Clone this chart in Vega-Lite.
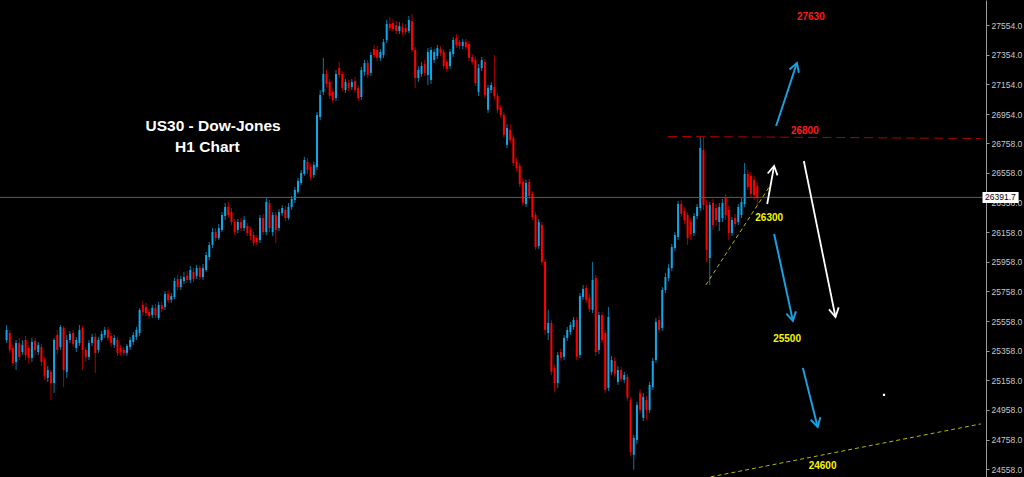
{
"$schema":"https://vega.github.io/schema/vega-lite/v6.json",
"width":986,"height":477,"autosize":"none",
"padding":{"left":0,"top":0,"right":38,"bottom":0},
"background":"#000000",
"config":{"view":{"stroke":null},"axisX":{"disable":true},
 "axisY":{"grid":false,"labelOverlap":false,"labelBound":false,"domainColor":"#9a9a9a","tickColor":"#9a9a9a","tickSize":3,"labelPadding":2,"labelColor":"#c8c8c8","labelFontSize":8.5,"labelFont":"Liberation Sans","labelBaseline":"middle","title":null}},
"datasets":{"k":[
{"t":0,"o":25430,"h":25531,"l":25410,"c":25498},
{"t":1,"o":25477,"h":25498,"l":25343,"c":25363},
{"t":2,"o":25376,"h":25397,"l":25255,"c":25275},
{"t":3,"o":25282,"h":25430,"l":25228,"c":25410},
{"t":4,"o":25410,"h":25444,"l":25295,"c":25316},
{"t":5,"o":25349,"h":25430,"l":25329,"c":25397},
{"t":6,"o":25430,"h":25457,"l":25295,"c":25329},
{"t":7,"o":25376,"h":25397,"l":25275,"c":25309},
{"t":8,"o":25309,"h":25444,"l":25282,"c":25417},
{"t":9,"o":25424,"h":25444,"l":25329,"c":25363},
{"t":10,"o":25349,"h":25417,"l":25329,"c":25397},
{"t":11,"o":25383,"h":25403,"l":25255,"c":25282},
{"t":12,"o":25295,"h":25316,"l":25161,"c":25188},
{"t":13,"o":25174,"h":25255,"l":25147,"c":25228},
{"t":14,"o":25215,"h":25228,"l":25026,"c":25140},
{"t":15,"o":25140,"h":25444,"l":25073,"c":25430},
{"t":16,"o":25464,"h":25498,"l":25336,"c":25363},
{"t":17,"o":25383,"h":25531,"l":25363,"c":25518},
{"t":18,"o":25511,"h":25525,"l":25113,"c":25228},
{"t":19,"o":25215,"h":25464,"l":25174,"c":25430},
{"t":20,"o":25430,"h":25491,"l":25410,"c":25471},
{"t":21,"o":25477,"h":25498,"l":25383,"c":25403},
{"t":22,"o":25376,"h":25451,"l":25349,"c":25430},
{"t":23,"o":25410,"h":25531,"l":25390,"c":25498},
{"t":24,"o":25511,"h":25525,"l":25228,"c":25363},
{"t":25,"o":25363,"h":25383,"l":25282,"c":25316},
{"t":26,"o":25316,"h":25430,"l":25295,"c":25410},
{"t":27,"o":25410,"h":25471,"l":25390,"c":25451},
{"t":28,"o":25451,"h":25477,"l":25208,"c":25343},
{"t":29,"o":25363,"h":25451,"l":25343,"c":25430},
{"t":30,"o":25430,"h":25491,"l":25417,"c":25471},
{"t":31,"o":25464,"h":25518,"l":25444,"c":25498},
{"t":32,"o":25498,"h":25518,"l":25424,"c":25444},
{"t":33,"o":25457,"h":25477,"l":25383,"c":25410},
{"t":34,"o":25397,"h":25464,"l":25376,"c":25444},
{"t":35,"o":25430,"h":25451,"l":25322,"c":25343},
{"t":36,"o":25376,"h":25397,"l":25322,"c":25349},
{"t":37,"o":25363,"h":25383,"l":25322,"c":25343},
{"t":38,"o":25343,"h":25403,"l":25322,"c":25390},
{"t":39,"o":25383,"h":25451,"l":25363,"c":25430},
{"t":40,"o":25417,"h":25484,"l":25397,"c":25464},
{"t":41,"o":25451,"h":25518,"l":25430,"c":25498},
{"t":42,"o":25477,"h":25646,"l":25457,"c":25633},
{"t":43,"o":25666,"h":25693,"l":25592,"c":25619},
{"t":44,"o":25653,"h":25680,"l":25592,"c":25612},
{"t":45,"o":25619,"h":25639,"l":25572,"c":25592},
{"t":46,"o":25599,"h":25666,"l":25579,"c":25646},
{"t":47,"o":25646,"h":25673,"l":25579,"c":25599},
{"t":48,"o":25579,"h":25687,"l":25565,"c":25666},
{"t":49,"o":25666,"h":25687,"l":25619,"c":25639},
{"t":50,"o":25653,"h":25760,"l":25633,"c":25740},
{"t":51,"o":25740,"h":25767,"l":25680,"c":25700},
{"t":52,"o":25700,"h":25747,"l":25680,"c":25727},
{"t":53,"o":25720,"h":25848,"l":25706,"c":25828},
{"t":54,"o":25841,"h":25868,"l":25767,"c":25787},
{"t":55,"o":25787,"h":25862,"l":25767,"c":25841},
{"t":56,"o":25828,"h":25889,"l":25808,"c":25855},
{"t":57,"o":25862,"h":25895,"l":25814,"c":25835},
{"t":58,"o":25835,"h":25929,"l":25814,"c":25902},
{"t":59,"o":25889,"h":25915,"l":25821,"c":25841},
{"t":60,"o":25862,"h":25936,"l":25841,"c":25915},
{"t":61,"o":25915,"h":25936,"l":25835,"c":25855},
{"t":62,"o":25855,"h":25942,"l":25835,"c":25915},
{"t":63,"o":25902,"h":26023,"l":25889,"c":26003},
{"t":64,"o":25990,"h":26091,"l":25969,"c":26071},
{"t":65,"o":26071,"h":26185,"l":26050,"c":26158},
{"t":66,"o":26158,"h":26185,"l":26098,"c":26118},
{"t":67,"o":26118,"h":26212,"l":26104,"c":26185},
{"t":68,"o":26172,"h":26293,"l":26158,"c":26273},
{"t":69,"o":26266,"h":26354,"l":26239,"c":26327},
{"t":70,"o":26327,"h":26361,"l":26253,"c":26273},
{"t":71,"o":26293,"h":26320,"l":26205,"c":26226},
{"t":72,"o":26226,"h":26246,"l":26138,"c":26158},
{"t":73,"o":26172,"h":26246,"l":26151,"c":26226},
{"t":74,"o":26226,"h":26253,"l":26165,"c":26185},
{"t":75,"o":26185,"h":26266,"l":26165,"c":26239},
{"t":76,"o":26199,"h":26219,"l":26131,"c":26151},
{"t":77,"o":26172,"h":26192,"l":26104,"c":26131},
{"t":78,"o":26138,"h":26158,"l":26064,"c":26084},
{"t":79,"o":26118,"h":26138,"l":26071,"c":26091},
{"t":80,"o":26104,"h":26273,"l":26084,"c":26253},
{"t":81,"o":26253,"h":26280,"l":26138,"c":26158},
{"t":82,"o":26158,"h":26388,"l":26138,"c":26361},
{"t":83,"o":26354,"h":26374,"l":26158,"c":26185},
{"t":84,"o":26158,"h":26293,"l":26131,"c":26273},
{"t":85,"o":26273,"h":26293,"l":26084,"c":26172},
{"t":86,"o":26185,"h":26313,"l":26165,"c":26293},
{"t":87,"o":26286,"h":26340,"l":26266,"c":26320},
{"t":88,"o":26307,"h":26334,"l":26232,"c":26253},
{"t":89,"o":26253,"h":26354,"l":26239,"c":26327},
{"t":90,"o":26327,"h":26402,"l":26307,"c":26381},
{"t":91,"o":26374,"h":26462,"l":26354,"c":26442},
{"t":92,"o":26429,"h":26523,"l":26415,"c":26503},
{"t":93,"o":26489,"h":26577,"l":26476,"c":26557},
{"t":94,"o":26550,"h":26665,"l":26537,"c":26644},
{"t":95,"o":26631,"h":26658,"l":26550,"c":26577},
{"t":96,"o":26597,"h":26617,"l":26510,"c":26530},
{"t":97,"o":26543,"h":26631,"l":26523,"c":26611},
{"t":98,"o":26597,"h":26968,"l":26577,"c":26948},
{"t":99,"o":26934,"h":27116,"l":26914,"c":27082},
{"t":100,"o":27103,"h":27332,"l":27082,"c":27224},
{"t":101,"o":27224,"h":27251,"l":27136,"c":27157},
{"t":102,"o":27170,"h":27190,"l":27055,"c":27076},
{"t":103,"o":27103,"h":27123,"l":27029,"c":27049},
{"t":104,"o":27062,"h":27251,"l":27042,"c":27224},
{"t":105,"o":27264,"h":27305,"l":27197,"c":27217},
{"t":106,"o":27224,"h":27244,"l":27109,"c":27130},
{"t":107,"o":27116,"h":27190,"l":27096,"c":27170},
{"t":108,"o":27163,"h":27184,"l":27109,"c":27130},
{"t":109,"o":27136,"h":27190,"l":27116,"c":27170},
{"t":110,"o":27177,"h":27204,"l":27096,"c":27116},
{"t":111,"o":27130,"h":27150,"l":27042,"c":27062},
{"t":112,"o":27069,"h":27271,"l":27049,"c":27251},
{"t":113,"o":27238,"h":27318,"l":27211,"c":27298},
{"t":114,"o":27298,"h":27318,"l":27197,"c":27217},
{"t":115,"o":27231,"h":27372,"l":27211,"c":27352},
{"t":116,"o":27393,"h":27420,"l":27332,"c":27352},
{"t":117,"o":27386,"h":27413,"l":27312,"c":27332},
{"t":118,"o":27332,"h":27393,"l":27312,"c":27372},
{"t":119,"o":27352,"h":27460,"l":27332,"c":27440},
{"t":120,"o":27453,"h":27588,"l":27433,"c":27561},
{"t":121,"o":27561,"h":27608,"l":27514,"c":27534},
{"t":122,"o":27568,"h":27595,"l":27507,"c":27527},
{"t":123,"o":27554,"h":27581,"l":27494,"c":27514},
{"t":124,"o":27514,"h":27575,"l":27494,"c":27548},
{"t":125,"o":27541,"h":27568,"l":27487,"c":27507},
{"t":126,"o":27534,"h":27561,"l":27487,"c":27507},
{"t":127,"o":27514,"h":27615,"l":27500,"c":27588},
{"t":128,"o":27581,"h":27629,"l":27372,"c":27386},
{"t":129,"o":27386,"h":27406,"l":27130,"c":27197},
{"t":130,"o":27197,"h":27278,"l":27170,"c":27251},
{"t":131,"o":27224,"h":27305,"l":27204,"c":27278},
{"t":132,"o":27291,"h":27318,"l":27211,"c":27231},
{"t":133,"o":27217,"h":27399,"l":27150,"c":27372},
{"t":134,"o":27184,"h":27406,"l":27157,"c":27386},
{"t":135,"o":27318,"h":27393,"l":27298,"c":27372},
{"t":136,"o":27345,"h":27420,"l":27325,"c":27399},
{"t":137,"o":27393,"h":27413,"l":27345,"c":27366},
{"t":138,"o":27372,"h":27393,"l":27258,"c":27278},
{"t":139,"o":27305,"h":27325,"l":27238,"c":27258},
{"t":140,"o":27278,"h":27393,"l":27258,"c":27372},
{"t":141,"o":27359,"h":27474,"l":27339,"c":27453},
{"t":142,"o":27467,"h":27494,"l":27399,"c":27420},
{"t":143,"o":27440,"h":27453,"l":27393,"c":27413},
{"t":144,"o":27413,"h":27460,"l":27393,"c":27440},
{"t":145,"o":27440,"h":27460,"l":27386,"c":27406},
{"t":146,"o":27426,"h":27447,"l":27312,"c":27332},
{"t":147,"o":27339,"h":27359,"l":27285,"c":27305},
{"t":148,"o":27318,"h":27339,"l":27143,"c":27163},
{"t":149,"o":27103,"h":27291,"l":27076,"c":27264},
{"t":150,"o":27264,"h":27339,"l":27244,"c":27318},
{"t":151,"o":27305,"h":27325,"l":27062,"c":27082},
{"t":152,"o":26982,"h":27150,"l":26961,"c":27130},
{"t":153,"o":27116,"h":27170,"l":27096,"c":27150},
{"t":154,"o":27136,"h":27352,"l":27055,"c":27076},
{"t":155,"o":27076,"h":27096,"l":26961,"c":26982},
{"t":156,"o":26995,"h":27015,"l":26928,"c":26948},
{"t":157,"o":26948,"h":26968,"l":26793,"c":26813},
{"t":158,"o":26746,"h":26887,"l":26725,"c":26860},
{"t":159,"o":26847,"h":26887,"l":26759,"c":26779},
{"t":160,"o":26793,"h":26813,"l":26604,"c":26624},
{"t":161,"o":26631,"h":26658,"l":26570,"c":26590},
{"t":162,"o":26604,"h":26624,"l":26462,"c":26483},
{"t":163,"o":26496,"h":26523,"l":26334,"c":26354},
{"t":164,"o":26347,"h":26510,"l":26327,"c":26489},
{"t":165,"o":26496,"h":26516,"l":26381,"c":26402},
{"t":166,"o":26415,"h":26435,"l":26239,"c":26259},
{"t":167,"o":26273,"h":26293,"l":26037,"c":26057},
{"t":168,"o":26064,"h":26246,"l":26044,"c":26226},
{"t":169,"o":26205,"h":26226,"l":25936,"c":25956},
{"t":170,"o":25956,"h":25976,"l":25464,"c":25498},
{"t":171,"o":25477,"h":25633,"l":25430,"c":25545},
{"t":172,"o":25545,"h":25565,"l":25194,"c":25215},
{"t":173,"o":25241,"h":25262,"l":25080,"c":25140},
{"t":174,"o":25140,"h":25349,"l":25107,"c":25329},
{"t":175,"o":25349,"h":25370,"l":25289,"c":25309},
{"t":176,"o":25316,"h":25464,"l":25295,"c":25444},
{"t":177,"o":25444,"h":25518,"l":25424,"c":25498},
{"t":178,"o":25484,"h":25552,"l":25464,"c":25531},
{"t":179,"o":25518,"h":25585,"l":25498,"c":25565},
{"t":180,"o":25565,"h":25585,"l":25295,"c":25316},
{"t":181,"o":25329,"h":25747,"l":25309,"c":25727},
{"t":182,"o":25720,"h":25801,"l":25700,"c":25774},
{"t":183,"o":25781,"h":25801,"l":25680,"c":25700},
{"t":184,"o":25713,"h":25740,"l":25619,"c":25639},
{"t":185,"o":25633,"h":25956,"l":25612,"c":25835},
{"t":186,"o":25848,"h":25868,"l":25322,"c":25349},
{"t":187,"o":25363,"h":25619,"l":25336,"c":25599},
{"t":188,"o":25599,"h":25619,"l":25410,"c":25430},
{"t":189,"o":25477,"h":25498,"l":25073,"c":25093},
{"t":190,"o":25107,"h":25653,"l":25086,"c":25585},
{"t":191,"o":25215,"h":25322,"l":25194,"c":25295},
{"t":192,"o":25289,"h":25316,"l":25181,"c":25201},
{"t":193,"o":25147,"h":25255,"l":25127,"c":25228},
{"t":194,"o":25228,"h":25248,"l":25147,"c":25167},
{"t":195,"o":25161,"h":25215,"l":25140,"c":25194},
{"t":196,"o":25181,"h":25201,"l":25019,"c":25039},
{"t":197,"o":25026,"h":25046,"l":24648,"c":24675},
{"t":198,"o":24655,"h":24790,"l":24554,"c":24770},
{"t":199,"o":24756,"h":25013,"l":24729,"c":24992},
{"t":200,"o":25073,"h":25100,"l":24932,"c":24959},
{"t":201,"o":24905,"h":25073,"l":24884,"c":25046},
{"t":202,"o":25026,"h":25053,"l":24891,"c":24959},
{"t":203,"o":24959,"h":25147,"l":24938,"c":25127},
{"t":204,"o":25113,"h":25309,"l":25093,"c":25289},
{"t":205,"o":25295,"h":25579,"l":25275,"c":25552},
{"t":206,"o":25565,"h":25592,"l":25477,"c":25498},
{"t":207,"o":25511,"h":25787,"l":25491,"c":25767},
{"t":208,"o":25767,"h":25882,"l":25747,"c":25855},
{"t":209,"o":25848,"h":25942,"l":25828,"c":25915},
{"t":210,"o":25915,"h":26077,"l":25895,"c":26057},
{"t":211,"o":26050,"h":26158,"l":26030,"c":26138},
{"t":212,"o":26125,"h":26367,"l":26104,"c":26347},
{"t":213,"o":26347,"h":26374,"l":26259,"c":26280},
{"t":214,"o":26300,"h":26327,"l":26212,"c":26239},
{"t":215,"o":26273,"h":26293,"l":26071,"c":26118},
{"t":216,"o":26226,"h":26253,"l":26104,"c":26145},
{"t":217,"o":26151,"h":26286,"l":26131,"c":26266},
{"t":218,"o":26266,"h":26347,"l":26246,"c":26327},
{"t":219,"o":26320,"h":26800,"l":26300,"c":26725},
{"t":220,"o":26712,"h":26800,"l":26307,"c":26340},
{"t":221,"o":26340,"h":26374,"l":25956,"c":26037},
{"t":222,"o":25983,"h":26361,"l":25801,"c":26340},
{"t":223,"o":26354,"h":26381,"l":26172,"c":26205},
{"t":224,"o":26320,"h":26347,"l":26205,"c":26239},
{"t":225,"o":26226,"h":26354,"l":26165,"c":26327},
{"t":226,"o":26253,"h":26381,"l":26226,"c":26354},
{"t":227,"o":26388,"h":26415,"l":26239,"c":26273},
{"t":228,"o":26307,"h":26334,"l":26104,"c":26151},
{"t":229,"o":26151,"h":26259,"l":26131,"c":26239},
{"t":230,"o":26253,"h":26280,"l":26192,"c":26212},
{"t":231,"o":26226,"h":26347,"l":26205,"c":26327},
{"t":232,"o":26273,"h":26388,"l":26253,"c":26361},
{"t":233,"o":26347,"h":26624,"l":26327,"c":26550},
{"t":234,"o":26550,"h":26577,"l":26442,"c":26462},
{"t":235,"o":26537,"h":26564,"l":26395,"c":26415},
{"t":236,"o":26510,"h":26537,"l":26374,"c":26408},
{"t":237,"o":26469,"h":26496,"l":26340,"c":26392}
]},
"layer":[
{"data":{"name":"k"},
 "mark":{"type":"rule","strokeWidth":1},
 "encoding":{"x":{"field":"t","type":"quantitative","scale":{"domain":[-0.5,307.625],"nice":false,"zero":false}},
  "y":{"field":"l","type":"quantitative","title":null,"scale":{"domain":[24506,27723],"nice":false,"zero":false},
   "axis":{"orient":"right","values":[24558,24758,24958,25158,25358,25558,25758,25958,26158,26358,26558,26758,26954,27154,27354,27554],"format":".1f","labelOverlap":false}},
  "y2":{"field":"h"},
  "color":{"condition":{"test":"datum.c >= datum.o","value":"#0b79a8"},"value":"#b00000"}}},
{"data":{"name":"k"},
 "mark":{"type":"bar","width":2},
 "encoding":{"x":{"field":"t","type":"quantitative","scale":{"domain":[-0.5,307.625],"nice":false,"zero":false}},
  "y":{"field":"o","type":"quantitative","title":null,"scale":{"domain":[24506,27723],"nice":false,"zero":false},
   "axis":{"orient":"right","values":[24558,24758,24958,25158,25358,25558,25758,25958,26158,26358,26558,26758,26954,27154,27354,27554],"format":".1f","labelOverlap":false}},
  "y2":{"field":"c"},
  "color":{"condition":{"test":"datum.c >= datum.o","value":"#12a6e6"},"value":"#ff0000"}}},
{"data":{"values":[{"p":26391.7}]},
 "mark":{"type":"rule","color":"#5c5c5c","strokeWidth":1},
 "encoding":{"y":{"field":"p","type":"quantitative","title":null,"scale":{"domain":[24506,27723],"nice":false,"zero":false},
   "axis":{"orient":"right","values":[24558,24758,24958,25158,25358,25558,25758,25958,26158,26358,26558,26758,26954,27154,27354,27554],"format":".1f","labelOverlap":false}}}},
{"data":{"values":[{"t":208.875,"p":26803},{"t":307.6,"p":26789}]},
 "mark":{"type":"line","color":"#b30000","strokeWidth":1,"strokeDash":[9,5],"clip":true},
 "encoding":{"x":{"field":"t","type":"quantitative","scale":{"domain":[-0.5,307.625],"nice":false,"zero":false}},
  "y":{"field":"p","type":"quantitative","title":null,"scale":{"domain":[24506,27723],"nice":false,"zero":false},
   "axis":{"orient":"right","values":[24558,24758,24958,25158,25358,25558,25758,25958,26158,26358,26558,26758,26954,27154,27354,27554],"format":".1f","labelOverlap":false}}}},
{"data":{"values":[{"id":"a","t":220.75,"p":25801},{"id":"a","t":240.75,"p":26462},{"id":"b","t":222.3,"p":24507},{"id":"b","t":307.6,"p":24864}]},
 "mark":{"type":"line","color":"#b8b800","strokeWidth":1,"strokeDash":[4,3],"clip":true},
 "encoding":{"x":{"field":"t","type":"quantitative","scale":{"domain":[-0.5,307.625],"nice":false,"zero":false}},
  "y":{"field":"p","type":"quantitative","title":null,"scale":{"domain":[24506,27723],"nice":false,"zero":false},
   "axis":{"orient":"right","values":[24558,24758,24958,25158,25358,25558,25758,25958,26158,26358,26558,26758,26954,27154,27354,27554],"format":".1f","labelOverlap":false}},
  "detail":{"field":"id"}}},
{"data":{"values":[
 {"id":"b1s","k":0,"t":242.94,"p":26873},{"id":"b1s","k":1,"t":249.5,"p":27298},
 {"id":"b1h","k":0,"t":247.16,"p":27254},{"id":"b1h","k":1,"t":249.5,"p":27298},{"id":"b1h","k":2,"t":250.13,"p":27232},
 {"id":"b2s","k":0,"t":242.31,"p":26145},{"id":"b2s","k":1,"t":248.25,"p":25559},
 {"id":"b2h","k":0,"t":249.19,"p":25623},{"id":"b2h","k":1,"t":248.25,"p":25559},{"id":"b2h","k":2,"t":246.16,"p":25608},
 {"id":"b3s","k":0,"t":251.38,"p":25242},{"id":"b3s","k":1,"t":256.06,"p":24844},
 {"id":"b3h","k":0,"t":256.91,"p":24909},{"id":"b3h","k":1,"t":256.06,"p":24844},{"id":"b3h","k":2,"t":253.88,"p":24892}]},
 "mark":{"type":"line","color":"#1a9fe0","strokeWidth":2},
 "encoding":{"x":{"field":"t","type":"quantitative","scale":{"domain":[-0.5,307.625],"nice":false,"zero":false}},
  "y":{"field":"p","type":"quantitative","title":null,"scale":{"domain":[24506,27723],"nice":false,"zero":false},
   "axis":{"orient":"right","values":[24558,24758,24958,25158,25358,25558,25758,25958,26158,26358,26558,26758,26954,27154,27354,27554],"format":".1f","labelOverlap":false}},
  "detail":{"field":"id"},"order":{"field":"k"}}},
{"data":{"values":[
 {"id":"w1s","k":0,"t":240.13,"p":26347},{"id":"w1s","k":1,"t":242.31,"p":26604},
 {"id":"w1h","k":0,"t":240.28,"p":26553},{"id":"w1h","k":1,"t":242.31,"p":26604},{"id":"w1h","k":2,"t":243.38,"p":26540},
 {"id":"w2s","k":0,"t":251.69,"p":26637},{"id":"w2s","k":1,"t":261.69,"p":25585},
 {"id":"w2h","k":0,"t":262.69,"p":25650},{"id":"w2h","k":1,"t":261.69,"p":25585},{"id":"w2h","k":2,"t":259.63,"p":25636}]},
 "mark":{"type":"line","color":"#ffffff","strokeWidth":1.8},
 "encoding":{"x":{"field":"t","type":"quantitative","scale":{"domain":[-0.5,307.625],"nice":false,"zero":false}},
  "y":{"field":"p","type":"quantitative","title":null,"scale":{"domain":[24506,27723],"nice":false,"zero":false},
   "axis":{"orient":"right","values":[24558,24758,24958,25158,25358,25558,25758,25958,26158,26358,26558,26758,26954,27154,27354,27554],"format":".1f","labelOverlap":false}},
  "detail":{"field":"id"},"order":{"field":"k"}}},
{"data":{"values":[
 {"s":"27630","t":253.9,"p":27608,"col":"#ff1a1a"},
 {"s":"26800","t":252.0,"p":26840,"col":"#ff1a1a"},
 {"s":"26300","t":240.75,"p":26253,"col":"#f5f500"},
 {"s":"25500","t":246.4,"p":25437,"col":"#f5f500"},
 {"s":"24600","t":257.6,"p":24581,"col":"#f5f500"}]},
 "mark":{"type":"text","font":"Liberation Sans","fontWeight":"bold","fontSize":10,"align":"center","baseline":"middle"},
 "encoding":{"x":{"field":"t","type":"quantitative","scale":{"domain":[-0.5,307.625],"nice":false,"zero":false}},
  "y":{"field":"p","type":"quantitative","title":null,"scale":{"domain":[24506,27723],"nice":false,"zero":false},
   "axis":{"orient":"right","values":[24558,24758,24958,25158,25358,25558,25758,25958,26158,26358,26558,26758,26954,27154,27354,27554],"format":".1f","labelOverlap":false}},
  "text":{"field":"s"},"color":{"field":"col","type":"nominal","scale":null}}},
{"data":{"values":[
 {"s":"US30 - Dow-Jones","t":65.2,"p":26873},
 {"s":"H1 Chart","t":63.4,"p":26732}]},
 "mark":{"type":"text","font":"Liberation Sans","fontWeight":"bold","fontSize":15.5,"align":"center","baseline":"middle","color":"#ffffff"},
 "encoding":{"x":{"field":"t","type":"quantitative","scale":{"domain":[-0.5,307.625],"nice":false,"zero":false}},
  "y":{"field":"p","type":"quantitative","title":null,"scale":{"domain":[24506,27723],"nice":false,"zero":false},
   "axis":{"orient":"right","values":[24558,24758,24958,25158,25358,25558,25758,25958,26158,26358,26558,26758,26954,27154,27354,27554],"format":".1f","labelOverlap":false}},
  "text":{"field":"s"}}},
{"data":{"values":[{"t":277.0,"p":25060}]},
 "mark":{"type":"square","color":"#ffffff","filled":true,"opacity":1,"size":5},
 "encoding":{"x":{"field":"t","type":"quantitative","scale":{"domain":[-0.5,307.625],"nice":false,"zero":false}},
  "y":{"field":"p","type":"quantitative","title":null,"scale":{"domain":[24506,27723],"nice":false,"zero":false},
   "axis":{"orient":"right","values":[24558,24758,24958,25158,25358,25558,25758,25958,26158,26358,26558,26758,26954,27154,27354,27554],"format":".1f","labelOverlap":false}}}},
{"data":{"values":[{"t":308.1,"t2":319.5,"p":26428,"p2":26354}]},
 "mark":{"type":"rect","color":"#ffffff","clip":false},
 "encoding":{"x":{"field":"t","type":"quantitative","scale":{"domain":[-0.5,307.625],"nice":false,"zero":false}},"x2":{"field":"t2"},
  "y":{"field":"p","type":"quantitative","title":null,"scale":{"domain":[24506,27723],"nice":false,"zero":false},
   "axis":{"orient":"right","values":[24558,24758,24958,25158,25358,25558,25758,25958,26158,26358,26558,26758,26954,27154,27354,27554],"format":".1f","labelOverlap":false}},"y2":{"field":"p2"}}},
{"data":{"values":[{"s":"26391.7","t":308.9,"p":26391.7}]},
 "mark":{"type":"text","font":"Liberation Sans","fontSize":8.5,"align":"left","baseline":"middle","color":"#000000","clip":false},
 "encoding":{"x":{"field":"t","type":"quantitative","scale":{"domain":[-0.5,307.625],"nice":false,"zero":false}},
  "y":{"field":"p","type":"quantitative","title":null,"scale":{"domain":[24506,27723],"nice":false,"zero":false},
   "axis":{"orient":"right","values":[24558,24758,24958,25158,25358,25558,25758,25958,26158,26358,26558,26758,26954,27154,27354,27554],"format":".1f","labelOverlap":false}},
  "text":{"field":"s"}}}
]
}
